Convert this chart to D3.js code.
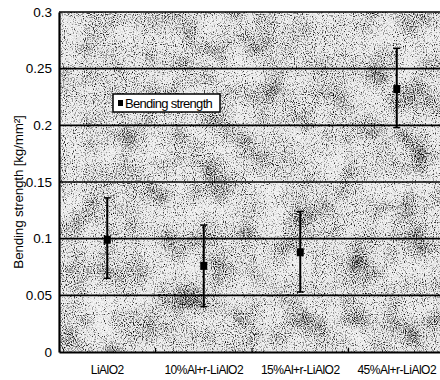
<!DOCTYPE html>
<html>
<head>
<meta charset="utf-8">
<script src="https://cdn.jsdelivr.net/npm/d3@7"></script>
<style>
body { margin: 0; background: #fff; }
text { font-family: "Liberation Sans", Arial, sans-serif; }
</style>
</head>
<body>
<svg id="chart"></svg>
<script>
const categories = ["LiAlO2", "10%Al+r-LiAlO2", "15%Al+r-LiAlO2", "45%Al+r-LiAlO2"];
const means = [0.099, 0.076, 0.088, 0.232];
const lows = [0.065, 0.040, 0.053, 0.198];
const highs = [0.136, 0.112, 0.124, 0.268];
const yTicks = [0, 0.05, 0.1, 0.15, 0.2, 0.25, 0.3];

const W = 440, H = 380;
const margin = {left: 59, top: 12, right: -5, bottom: 28};

const svg = d3.select("#chart")
.attr("width", W)
.attr("height", H);

const x = d3.scaleBand()
.domain(categories)
.range([margin.left, W - margin.right]);
const y = d3.scaleLinear()
.domain([0, 0.3])
.range([H - margin.bottom, margin.top]);

// grainy background like the scanned figure
const defs = svg.append("defs");
const f = defs.append("filter").attr("id", "grain")
.attr("x", 0).attr("y", 0).attr("width", 1).attr("height", 1)
.attr("color-interpolation-filters", "sRGB");
f.append("feTurbulence").attr("type", "fractalNoise")
.attr("baseFrequency", "0.9").attr("numOctaves", 1).attr("seed", 3).attr("result", "fine");
f.append("feTurbulence").attr("type", "fractalNoise")
.attr("baseFrequency", "0.035").attr("numOctaves", 2).attr("seed", 14).attr("result", "coarse");
f.append("feComposite").attr("in", "fine").attr("in2", "coarse")
.attr("operator", "arithmetic").attr("k1", 0).attr("k2", 1).attr("k3", 0.35).attr("k4", -0.175)
.attr("result", "mix");
f.append("feColorMatrix").attr("in", "mix").attr("type", "matrix")
.attr("values", "0 0 0 0 0  0 0 0 0 0  0 0 0 0 0  1 0 0 0 0")
.attr("result", "a");
f.append("feComponentTransfer").attr("in", "a")
.append("feFuncA").attr("type", "discrete").attr("tableValues", "0 0 0.07 0.36 0.75 1 1 1");

const plotX0 = margin.left, plotY0 = margin.top;
const plotW = W - plotX0, plotH = y(0) - plotY0;

svg.append("rect")
.attr("x", plotX0).attr("y", plotY0)
.attr("width", plotW).attr("height", plotH)
.attr("fill", "#f2f2f2");
svg.append("rect")
.attr("x", plotX0).attr("y", plotY0)
.attr("width", plotW).attr("height", plotH)
.attr("fill", "#333")
.attr("filter", "url(#grain)");

// horizontal gridlines
svg.selectAll(".grid")
.data(yTicks.filter(d => d > 0))
.enter()
.append("line")
.attr("x1", plotX0).attr("x2", W)
.attr("y1", d => y(d)).attr("y2", d => y(d))
.attr("stroke", "#000")
.attr("stroke-width", d => d === 0.3 ? 1.5 : 1.6);

// axes
const yAxis = svg.append("g")
.attr("transform", `translate(${plotX0},0)`)
.call(d3.axisLeft(y).tickValues(yTicks).tickSize(0).tickPadding(7)
  .tickFormat(d => d3.format("")(+d.toFixed(2))));
yAxis.select(".domain").attr("stroke-width", 2.2);
yAxis.selectAll("text").attr("font-size", 13.5).attr("fill", "#000");

const xAxis = svg.append("g")
.attr("transform", `translate(0,${y(0)})`)
.call(d3.axisBottom(x).tickSize(0).tickPadding(13));
xAxis.select(".domain").attr("stroke-width", 2.2);
xAxis.selectAll("text").attr("font-size", 12).attr("letter-spacing", -0.5).attr("fill", "#000");

// small tick marks between categories
svg.selectAll(".sep")
.data(categories.slice(1))
.enter()
.append("line")
.attr("x1", d => x(d)).attr("x2", d => x(d))
.attr("y1", y(0)).attr("y2", y(0) - 4)
.attr("stroke", "#000").attr("stroke-width", 1.2);

// error bars
const pts = categories.map((c, i) => ({c, m: means[i], lo: lows[i], hi: highs[i]}));
const cx = d => x(d.c) + x.bandwidth() / 2;

const eb = svg.selectAll(".eb").data(pts).enter().append("g");
eb.append("line")
.attr("x1", cx).attr("x2", cx)
.attr("y1", d => y(d.lo)).attr("y2", d => y(d.hi))
.attr("stroke", "#000").attr("stroke-width", 2);
eb.append("line")
.attr("x1", d => cx(d) - 3.5).attr("x2", d => cx(d) + 3.5)
.attr("y1", d => y(d.hi)).attr("y2", d => y(d.hi))
.attr("stroke", "#000").attr("stroke-width", 1.5);
eb.append("line")
.attr("x1", d => cx(d) - 3.5).attr("x2", d => cx(d) + 3.5)
.attr("y1", d => y(d.lo)).attr("y2", d => y(d.lo))
.attr("stroke", "#000").attr("stroke-width", 1.5);
eb.append("rect")
.attr("x", d => cx(d) - 3.5).attr("y", d => y(d.m) - 4)
.attr("width", 7).attr("height", 8)
.attr("fill", "#000");

// legend
const lg = svg.append("g").attr("transform", "translate(113,94)");
lg.append("rect")
.attr("width", 107).attr("height", 18)
.attr("fill", "#fff").attr("stroke", "#000").attr("stroke-width", 1.5);
lg.append("rect")
.attr("x", 5).attr("y", 6).attr("width", 5).attr("height", 6)
.attr("fill", "#000");
lg.append("text")
.attr("x", 12).attr("y", 13.5)
.attr("font-size", 13).attr("letter-spacing", -0.7)
.text("Bending strength");

// y axis title
svg.append("text")
.attr("transform", `translate(23,${(y(0) + y(0.3)) / 2 + 10}) rotate(-90)`)
.attr("text-anchor", "middle")
.attr("font-size", 13.5)
.attr("letter-spacing", -0.2)
.text("Bending strength [kg/mm²]");
</script>
</body>
</html>
